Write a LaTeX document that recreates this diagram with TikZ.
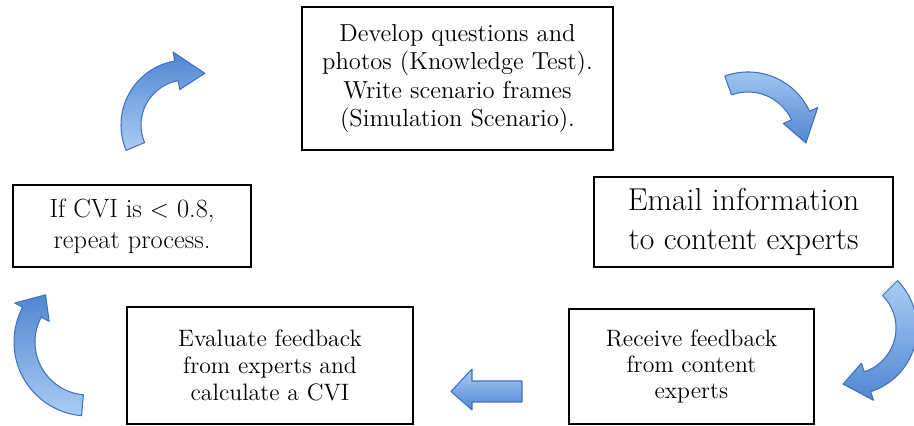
\documentclass[tikz,border=0pt]{standalone}
\usepackage{tikz}
\usetikzlibrary{calc}
\definecolor{arrowlight}{RGB}{170,204,244}
\definecolor{arrowdark}{RGB}{80,134,210}
\definecolor{arrowline}{RGB}{66,114,186}
\tikzset{>=stealth,
  procbox/.style={draw,line width=1.3pt,align=center,inner sep=0pt},
  blockarrow/.style={draw=arrowline,line width=0.6pt,top color=arrowlight,bottom color=arrowdark,line join=round}}
% bent block arrow: [opts]{centre}{inner r}{outer r}{tail angle}{head angle}{tip angle}
\newcommand{\bentarrow}[7][]{%
  \pgfmathsetmacro{\rmid}{(#3+#4)/2}%
  \pgfmathsetmacro{\rbig}{#4+9}%
  \pgfmathsetmacro{\rsmall}{#3-9}%
  \path[blockarrow,#1,shift={#2}] (#5:#4) arc[start angle=#5,end angle=#6,radius=#4]
    -- (#6:\rbig) -- (#7:\rmid) -- (#6:\rsmall) -- (#6:#3)
    arc[start angle=#6,end angle=#5,radius=#3] -- cycle;}

\begin{document}
\begin{tikzpicture}[x=0.02cm,y=0.02cm]
\useasboundingbox (0,0) rectangle (914,426);

% the five steps
\node[procbox,minimum width=6.22cm,minimum height=2.86cm,font=\fontsize{14}{16}\selectfont] (develop) at (457.5,347.5)
  {Develop questions and\\photos (Knowledge Test).\\Write scenario frames\\(Simulation Scenario).};
\node[procbox,minimum width=5.98cm,minimum height=1.80cm,font=\fontsize{18}{22}\selectfont] (email) at (743.5,204)
  {Email information\\to content experts};
\node[procbox,minimum width=4.90cm,minimum height=2.30cm,font=\fontsize{13.5}{15}\selectfont] (receive) at (691.5,59.5)
  {Receive feedback\\from content\\experts};
\node[procbox,minimum width=5.72cm,minimum height=2.34cm,font=\fontsize{13.5}{15.3}\selectfont] (evaluate) at (270,60.5)
  {Evaluate feedback\\from experts and\\calculate a CVI};
\node[procbox,minimum width=4.76cm,minimum height=1.64cm,font=\fontsize{15}{17.6}\selectfont] (repeat) at (132,200)
  {If CVI is $<$ 0.8,\\repeat process.};

% block arrows round the cycle
\bentarrow[shading angle=180]{(186,301)}{45}{65}{203}{100}{70}
\bentarrow{(748,286)}{48}{68}{110}{25}{-3}
\bentarrow{(850,98)}{46}{67}{45}{-72}{-97}
\path[blockarrow] (522,45) -- (472,45) -- (472,57) -- (451,34.5) -- (472,16) -- (472,24) -- (522,24) -- cycle;
\bentarrow[shading angle=180]{(88,84)}{53}{74}{265}{152}{132}

\end{tikzpicture}
\end{document}
